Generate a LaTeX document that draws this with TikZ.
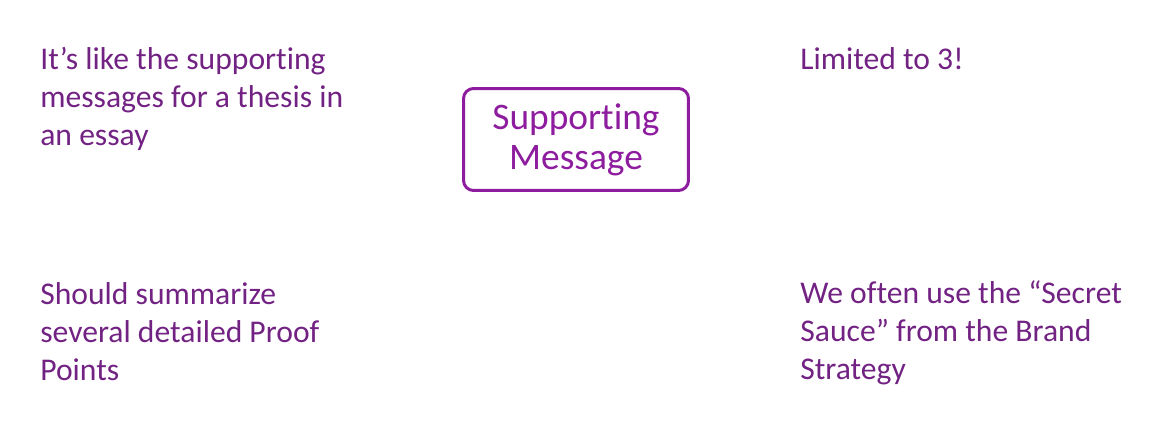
\documentclass[tikz,border=0pt]{standalone}
\usepackage{fontspec}
\setmainfont[Ligatures=NoCommon]{Carlito}
\usetikzlibrary{positioning}
\definecolor{notepurple}{HTML}{722282}
\definecolor{boxpurple}{HTML}{8E1C9E}
\begin{document}
\begin{tikzpicture}[x=0.02cm, y=-0.02cm,
        note/.style = {anchor=base west, inner sep=0pt, align=left, text=notepurple,
            font=\fontsize{18}{21.6}\selectfont},
        main/.style = {draw=boxpurple, line width=1.7pt, rounded corners=0.2cm, text=boxpurple,
            minimum width=4.5cm, minimum height=2.04cm, align=center,
            font=\fontsize{21.3}{22.8}\selectfont}]
        \useasboundingbox (0,0) rectangle (1170,429);

        \node[main] (msg) at (576,139.5) {Supporting\\Message};

        % base is the last line
        \node[note] (thesis) at (40,145.5) {It’s like the supporting\\messages for a thesis in\\an essay};
        \node[note] (limit)  at (800,70)   {Limited to 3!};
        \node[note] (proof)  at (40,380)   {Should summarize\\several detailed Proof\\Points};
        \node[note] (sauce)  at (800,379.5) {We often use the “Secret\\Sauce” from the Brand\\Strategy};

    \end{tikzpicture}
\end{document}
